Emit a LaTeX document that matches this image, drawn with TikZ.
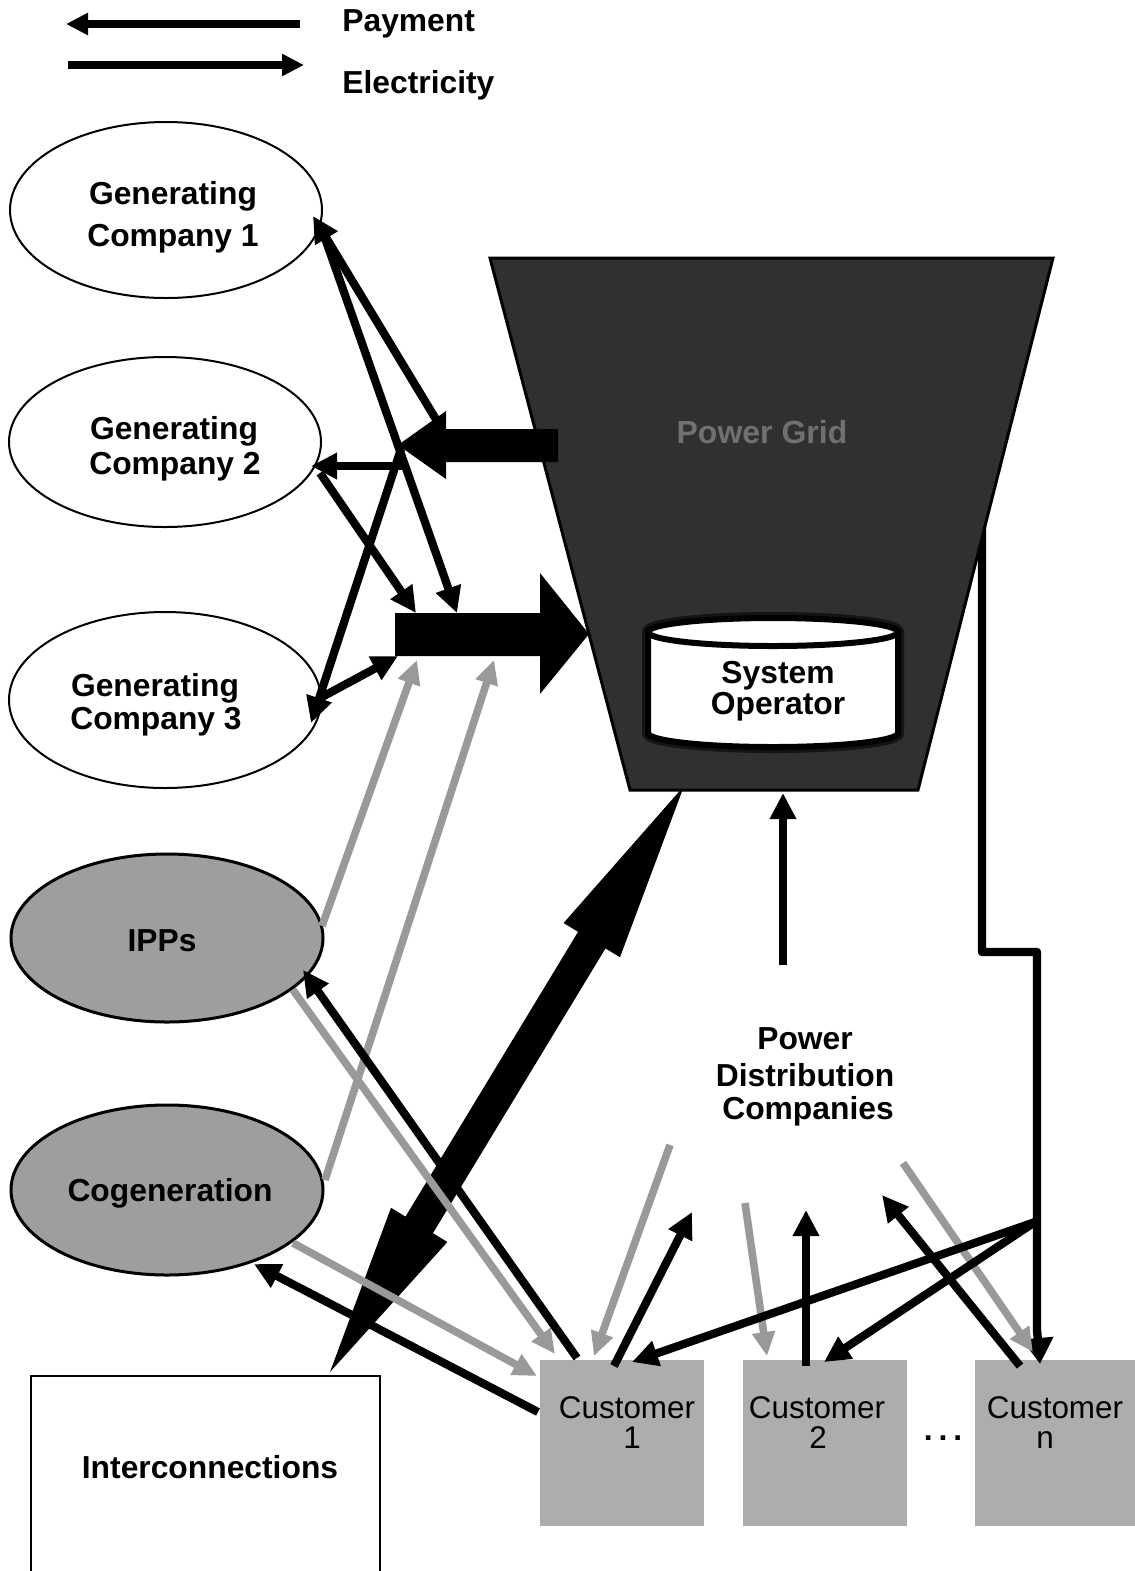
\documentclass[tikz,border=0pt]{standalone}
\usepackage{fontspec}
\setmainfont{Liberation Sans}
\usetikzlibrary{arrows.meta,shapes.geometric}
\tikzset{
  genell/.style={ellipse, draw=black, line width=1pt, minimum width=156pt, minimum height=88pt, inner sep=0pt},
  grayell/.style={genell, fill=black!38, line width=1.5pt},
  lb/.style={font=\bfseries\fontsize{15.9}{19}\selectfont, inner sep=0pt, anchor=base},
  lr/.style={font=\fontsize{15.7}{19}\selectfont, inner sep=0pt, anchor=base},
  legarr/.style={line width=4.2pt, -{Triangle[length=11pt,width=10.5pt]}},
  pay/.style={line width=4.1pt, -{Triangle[length=13pt,width=12.5pt]}},
  gry/.style={color=black!40, line width=3.8pt, -{Triangle[length=12pt,width=11pt]}},
  custbox/.style={rectangle, fill=black!32, minimum width=82pt, minimum height=83pt, inner sep=0pt},
  bigarrow/.style={fill=black},
}
\begin{document}
\begin{tikzpicture}[x=0.5pt,y=-0.5pt]
\useasboundingbox (0,0) rectangle (1135,1571);
\clip (0,0) rectangle (1135,1571);
\fill[white] (0,0) rectangle (1135,1571);

% ---------- legend
\coordinate (lpa) at (300,24); \coordinate (lpb) at (66,24);
\coordinate (lea) at (68,65);  \coordinate (leb) at (304,65);
\draw[legarr] (lpa) -- (lpb);
\draw[legarr] (lea) -- (leb);
\node[lb,anchor=base west] (lpay) at (342,31) {Payment};
\node[lb,anchor=base west] (lele) at (342,93) {Electricity};

% ---------- generators
\node[genell] (gc1) at (166,210) {};
\node[genell, minimum height=85pt] (gc2) at (165,442) {};
\node[genell] (gc3) at (165,700) {};
\node[grayell, minimum height=84pt] (ipp) at (167,938) {};
\node[grayell, minimum height=85pt] (cog) at (167,1190) {};
\node[lb] (gc1a) at (173,204) {Generating};
\node[lb] (gc1b) at (173,246) {Company 1};
\node[lb] (gc2a) at (174,439) {Generating};
\node[lb] (gc2b) at (175,474) {Company 2};
\node[lb] (gc3a) at (155,696) {Generating};
\node[lb] (gc3b) at (156,729) {Company 3};
\node[lb] (ippt) at (162,951) {IPPs};
\node[lb] (cogt) at (170,1201) {Cogeneration};

% ---------- customers and interconnections
\node[custbox] (c1) at (622,1443) {};
\node[custbox] (c2) at (825,1443) {};
\node[custbox, minimum width=80pt] (cn) at (1055,1443) {};
\node[lr] (c1a) at (627,1418) {Customer};
\node[lr] (c1b) at (632,1448) {1};
\node[lr] (c2a) at (817,1418) {Customer};
\node[lr] (c2b) at (818,1448) {2};
\node[lr] (cna) at (1055,1418) {Customer};
\node[lr] (cnb) at (1045,1448) {n};
\node[lb] (dots) at (943,1440) {.\hspace{3pt}.\hspace{3pt}.};
\node[draw, line width=1.2pt, minimum width=174.5pt, minimum height=132pt, inner sep=0pt] (ic) at (205.5,1508) {};
\node[lb] (ict) at (210,1478) {Interconnections};

% ---------- huge double arrow (interconnections <-> grid)
\fill[bigarrow] (330,1372) -- (447.4,1242) -- (432.9,1233.2) -- (605.5,948.4) -- (620,957.2) -- (684,786)
  -- (563.6,923) -- (578.1,931.8) -- (405.5,1216.6) -- (391,1207.8) -- cycle;

% ---------- right path grid -> customer n
\coordinate (rp0) at (982,500);
\coordinate (rp1) at (982,952);
\coordinate (rp2) at (1037,952);
\coordinate (rp3) at (1040,1364);
\coordinate (jn) at (1035,1222);
\draw[line width=4.2pt, line join=round, -{Triangle[length=13pt,width=15pt]}] (rp0) -- (rp1) -- (rp2) -- (1037,1330) -- (rp3);

% ---------- power grid
\draw[line width=1.5pt, fill=black!81] (490,258) -- (1053,258) -- (918,790) -- (630,790) -- cycle;
\node[lb, text=black!56, font=\bfseries\fontsize{16}{19}\selectfont] (pgt) at (762,443) {Power Grid};

% ---------- system operator cylinder
\draw[line width=6pt, black!92] (648,632) -- (648,733) arc[start angle=180, end angle=360, x radius=62.5pt, y radius=7pt]
  -- (898,632) arc[start angle=0, end angle=180, x radius=62.5pt, y radius=7pt] -- cycle;
\draw[line width=3pt, fill=white] (648,632) -- (648,733) arc[start angle=180, end angle=360, x radius=62.5pt, y radius=7pt]
  -- (898,632) arc[start angle=0, end angle=180, x radius=62.5pt, y radius=7pt] -- cycle;
\draw[line width=3pt] (648,632) arc[start angle=180, end angle=360, x radius=62.5pt, y radius=7pt];
\node[lb] (so1) at (778,683) {System};
\node[lb] (so2) at (778,714) {Operator};

% ---------- big payment arrow (grid -> generators)
\fill[bigarrow] (558,429) -- (446,429) -- (446,411) -- (398,445) -- (446,479) -- (446,462) -- (558,462) -- cycle;
% ---------- big electricity arrow (generators -> grid)
\fill[bigarrow] (395,613) -- (540,613) -- (540,573) -- (589,634) -- (540,694) -- (540,656) -- (395,656) -- cycle;

% ---------- generator connectors
\coordinate (g1p) at (437,421);  \coordinate (g1t) at (313,216);
\coordinate (g1s) at (320,224);  \coordinate (g1e) at (457,613);
\coordinate (g2p) at (402,466);  \coordinate (g2t) at (311,466);
\coordinate (g2s) at (320,473);  \coordinate (g2e) at (416,613);
\coordinate (g3p) at (401,449);  \coordinate (g3t) at (311,723);
\coordinate (g3s) at (322,697);  \coordinate (g3e) at (398,656);
\draw[pay] (g1p) -- (g1t);
\draw[pay] (g1s) -- (g1e);
\draw[pay] (g2p) -- (g2t);
\draw[pay] (g2s) -- (g2e);
\draw[pay] (g3p) -- (g3t);
\draw[pay] (g3s) -- (g3e);

% ---------- IPP / cogeneration connectors
\coordinate (ipu) at (322,926);  \coordinate (ipue) at (417,660);
\coordinate (cou) at (325,1180); \coordinate (coue) at (494,660);
\coordinate (ipd) at (293,990);  \coordinate (ipde) at (555,1354);
\coordinate (cod) at (293,1243); \coordinate (code) at (537,1376);
\coordinate (c1i) at (577,1358); \coordinate (ipt) at (303,970);
\coordinate (c1c) at (538,1412); \coordinate (cot) at (254,1264);
\draw[gry] (ipu) -- (ipue);
\draw[gry] (cou) -- (coue);
\draw[gry] (ipd) -- (ipde);
\draw[gry] (cod) -- (code);
\draw[pay] (c1i) -- (ipt);
\draw[pay] (c1c) -- (cot);

% ---------- distribution companies
\node[lb] (pd1) at (805,1049) {Power};
\node[lb] (pd2) at (805,1086) {Distribution};
\node[lb] (pd3) at (808,1119) {Companies};
\coordinate (pdu) at (783,965); \coordinate (pdt) at (783,793);
\draw[pay] (pdu) -- (pdt);

% ---------- customer connectors
\coordinate (c1u) at (614,1366); \coordinate (c1ut) at (692,1212);
\coordinate (c1g) at (670,1145); \coordinate (c1gt) at (594,1356);
\coordinate (c1e) at (632,1362);
\coordinate (c2u) at (806,1366); \coordinate (c2ut) at (806,1210);
\coordinate (c2g) at (745,1203); \coordinate (c2gt) at (767,1356);
\coordinate (c2e) at (824,1362);
\coordinate (cnu) at (1020,1366); \coordinate (cnut) at (882,1195);
\coordinate (cng) at (903,1163); \coordinate (cngt) at (1033,1352);
\draw[gry] (c1g) -- (c1gt);
\draw[gry] (c2g) -- (c2gt);
\draw[gry] (cng) -- (cngt);
\draw[pay] (c1u) -- (c1ut);
\draw[pay] (c2u) -- (c2ut);
\draw[pay] (cnu) -- (cnut);
\draw[pay] (jn) -- (c1e);
\draw[pay] (jn) -- (c2e);
\end{tikzpicture}
\end{document}
